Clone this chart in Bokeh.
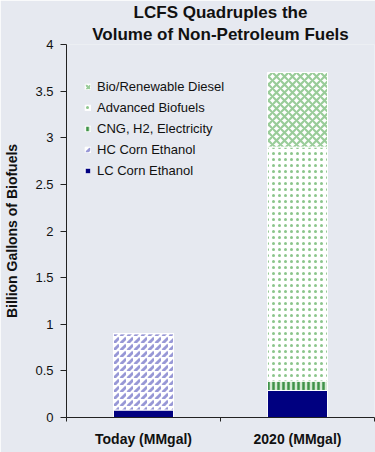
from bokeh.plotting import figure
from bokeh.models import (ColumnDataSource, Range1d, FixedTicker, Legend, LegendItem, Title)
from bokeh.embed import file_html
from bokeh.resources import INLINE

# ---- data ----
categories = ["Today (MMgal)", "2020 (MMgal)"]
lc_corn_ethanol = [0.08, 0.29]
hc_corn_ethanol = [0.82, 0.0]
cng_h2_electricity = [0.0, 0.10]
advanced_biofuels = [0.0, 2.51]
bio_renewable_diesel = [0.0, 0.80]
series_names = ["LC Corn Ethanol", "HC Corn Ethanol", "CNG, H2, Electricity",
                "Advanced Biofuels", "Bio/Renewable Diesel"]
y_ticks = [0, 0.5, 1, 1.5, 2, 2.5, 3, 3.5, 4]
y_tick_labels = ["0", "0.5", "1", "1.5", "2", "2.5", "3", "3.5", "4"]

BG = "#E6E9F0"
FONT = "Liberation Sans"

x_pos = [i + 0.5 for i in range(len(categories))]
keys = ["lc", "hc", "cng", "adv", "bio"]
source = ColumnDataSource(dict(x=x_pos, lc=lc_corn_ethanol, hc=hc_corn_ethanol,
                               cng=cng_h2_electricity, adv=advanced_biofuels,
                               bio=bio_renewable_diesel))

p = figure(width=375, height=452, output_backend="svg", toolbar_location=None,
           x_range=Range1d(0, 2), y_range=Range1d(0, 4),
           min_border_left=66, min_border_right=1, min_border_top=44, min_border_bottom=35)
p.background_fill_color = BG
p.border_fill_color = BG
p.outline_line_color = None
p.grid.visible = False

renderers = p.vbar_stack(
    keys, x="x", width=0.39, source=source,
    fill_color=["#000080", "white", "#d4e9d4", "white", "white"],
    hatch_pattern=[" ", ",", "|", ".", "x"],
    hatch_color=["#000080", "#6c6cc4", "#2f8a3a", "#4da64d", "#55aa55"],
    hatch_alpha=[1.0, 0.7, 0.9, 0.65, 0.6],
    hatch_scale=[6, 7, 5, 6, 8],
    hatch_weight=[1, 3, 2.5, 2.0, 2.2],
    line_color="white", line_width=1,
)

legend = Legend(items=[LegendItem(label=n, renderers=[r])
                       for n, r in reversed(list(zip(series_names, renderers)))])
legend.location = (18, 238)
legend.padding = 0
legend.margin = 0
legend.spacing = 4
legend.label_height = 17
legend.glyph_height = 7
legend.glyph_width = 7
legend.label_standoff = 6
legend.border_line_color = None
legend.background_fill_alpha = 0
legend.label_text_font = FONT
legend.label_text_font_size = "13px"
legend.label_text_color = "#111111"
p.add_layout(legend, "center")

# titles
p.add_layout(Title(text="Volume of Non-Petroleum Fuels", align="center",
                   text_font=FONT, text_font_size="17px", text_font_style="bold",
                   text_color="#111111", standoff=2, offset=0), "above")
p.add_layout(Title(text="LCFS Quadruples the", align="center",
                   text_font=FONT, text_font_size="17px", text_font_style="bold",
                   text_color="#111111", standoff=0, offset=0), "above")

# y axis
yax = p.yaxis[0]
yax.ticker = FixedTicker(ticks=y_ticks)
yax.major_label_overrides = {t: l for t, l in zip(y_ticks, y_tick_labels)}
yax.minor_tick_line_color = None
yax.major_tick_in = 0
yax.major_tick_out = 6
yax.major_label_standoff = 7
yax.major_label_text_font = FONT
yax.major_label_text_font_size = "13px"
yax.major_label_text_color = "#111111"
yax.axis_label = "Billion Gallons of Biofuels"
yax.axis_label_text_font = FONT
yax.axis_label_text_font_size = "14px"
yax.axis_label_text_font_style = "bold"
yax.axis_label_text_color = "#111111"
yax.axis_label_standoff = 12
yax.axis_line_color = "#222222"
yax.major_tick_line_color = "#222222"

# x axis
xax = p.xaxis[0]
xax.ticker = FixedTicker(ticks=x_pos, minor_ticks=[0, 1, 2])
xax.major_label_overrides = {t: c for t, c in zip(x_pos, categories)}
xax.major_tick_in = 0
xax.major_tick_out = 0
xax.minor_tick_in = 0
xax.minor_tick_out = 4
xax.major_label_standoff = 9
xax.major_label_text_font = FONT
xax.major_label_text_font_size = "14px"
xax.major_label_text_font_style = "bold"
xax.major_label_text_color = "#111111"
xax.axis_line_color = "#222222"
xax.minor_tick_line_color = "#222222"

open("out.html", "w").write(file_html(p, INLINE))
